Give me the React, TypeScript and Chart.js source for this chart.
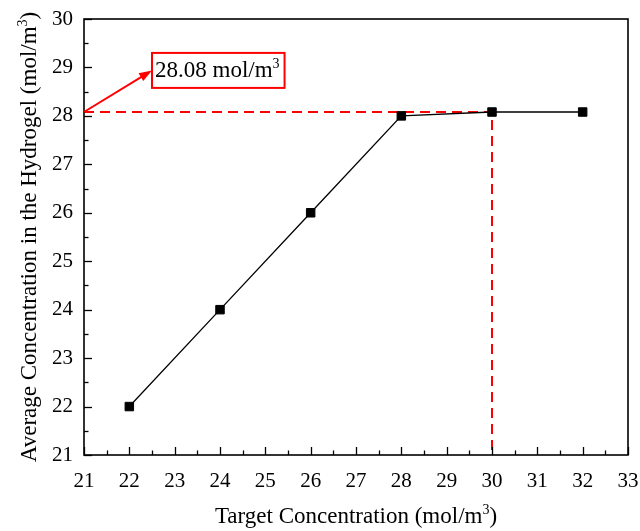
import React, { useEffect, useRef } from 'react';
import { Chart, registerables } from 'chart.js';

Chart.register(...registerables);

// ---- data ----
const targetConc = [22, 24, 26, 28, 30, 32];
const avgConc = [22, 24, 26, 28, 28.08, 28.08];
const refLineX = [21, 30, 30];
const refLineY = [28.08, 28.08, 21];
const xMin = 21;
const xMax = 33;
const yMin = 21;
const yMax = 30;
const xTitleParts = ['Target Concentration (mol/m', '3', ')'];
const yTitleParts = ['Average Concentration in the Hydrogel (mol/m', '3', ')'];
const annotationParts = ['28.08 mol/m', '3'];
const annotationValue = 28.08;
const annotationBoxX = 22.5;
const annotationBoxTopY = 29.3;

const FONT = '"Liberation Serif", "Times New Roman", serif';

type Ctx = CanvasRenderingContext2D;

function partsWidth(ctx: Ctx, parts: string[], size: number) {
  let w = 0;
  parts.forEach((p, i) => {
    const sup = i % 2 === 1;
    ctx.font = `${sup ? Math.round(size * 0.6) : size}px ${FONT}`;
    w += ctx.measureText(p).width;
  });
  return w;
}

function drawParts(ctx: Ctx, parts: string[], x: number, y: number, size: number) {
  let cx = x;
  ctx.textBaseline = 'middle';
  ctx.textAlign = 'left';
  parts.forEach((p, i) => {
    const sup = i % 2 === 1;
    const s = sup ? Math.round(size * 0.6) : size;
    ctx.font = `${s}px ${FONT}`;
    ctx.fillText(p, cx, sup ? y - size * 0.3 : y);
    cx += ctx.measureText(p).width;
  });
}

const zeroPad = (s: any) => {
  s.paddingLeft = 0;
  s.paddingRight = 0;
  s.paddingTop = 0;
  s.paddingBottom = 0;
};

const decorPlugin = {
  id: 'decor',
  afterDraw(chart: any) {
    const ctx: Ctx = chart.ctx;
    const { left, right, top, bottom } = chart.chartArea;
    const xs = chart.scales.x;
    const ys = chart.scales.y;
    ctx.save();
    // inward ticks
    ctx.strokeStyle = '#000';
    ctx.lineWidth = 1.3;
    for (let v = xMin; v <= xMax + 1e-9; v += 0.5) {
      const px = Math.round(xs.getPixelForValue(v)) + 0.5;
      const len = Number.isInteger(v) ? 8 : 4.5;
      ctx.beginPath();
      ctx.moveTo(px, bottom);
      ctx.lineTo(px, bottom - len);
      ctx.stroke();
    }
    for (let v = yMin; v <= yMax + 1e-9; v += 0.5) {
      const py = Math.round(ys.getPixelForValue(v)) + 0.5;
      const len = Number.isInteger(v) ? 8 : 4.5;
      ctx.beginPath();
      ctx.moveTo(left, py);
      ctx.lineTo(left + len, py);
      ctx.stroke();
    }
    // frame
    ctx.lineWidth = 1.6;
    ctx.strokeRect(left, top, right - left, bottom - top);

    // axis titles
    ctx.fillStyle = '#000';
    const tSize = 23;
    const xw = partsWidth(ctx, xTitleParts, tSize);
    drawParts(ctx, xTitleParts, (left + right) / 2 - xw / 2, 517, tSize);
    const yw = partsWidth(ctx, yTitleParts, tSize);
    ctx.save();
    ctx.translate(30, (top + bottom) / 2);
    ctx.rotate(-Math.PI / 2);
    drawParts(ctx, yTitleParts, -yw / 2, 0, tSize);
    ctx.restore();

    // annotation box + arrow
    const aSize = 23;
    const aw = partsWidth(ctx, annotationParts, aSize);
    const bx = xs.getPixelForValue(annotationBoxX);
    const by = ys.getPixelForValue(annotationBoxTopY);
    const bw = aw + 8;
    const bh = 35;
    ctx.strokeStyle = '#ff0000';
    ctx.lineWidth = 2;
    ctx.strokeRect(bx, by, bw, bh);
    ctx.fillStyle = '#000';
    drawParts(ctx, annotationParts, bx + 3, by + bh / 2 + 1, aSize);

    const ax = xs.getPixelForValue(xMin);
    const ay = ys.getPixelForValue(annotationValue);
    const tx = bx;
    const ty = by + bh / 2;
    const ang = Math.atan2(ty - ay, tx - ax);
    const hl = 13;
    ctx.strokeStyle = '#ff0000';
    ctx.fillStyle = '#ff0000';
    ctx.lineWidth = 2;
    ctx.beginPath();
    ctx.moveTo(ax, ay);
    ctx.lineTo(tx - Math.cos(ang) * hl * 0.8, ty - Math.sin(ang) * hl * 0.8);
    ctx.stroke();
    ctx.beginPath();
    ctx.moveTo(tx, ty);
    ctx.lineTo(tx - hl * Math.cos(ang) + 4.5 * Math.sin(ang), ty - hl * Math.sin(ang) - 4.5 * Math.cos(ang));
    ctx.lineTo(tx - hl * Math.cos(ang) - 4.5 * Math.sin(ang), ty - hl * Math.sin(ang) + 4.5 * Math.cos(ang));
    ctx.closePath();
    ctx.fill();
    ctx.restore();
  },
};

export default function App() {
  const ref = useRef<HTMLCanvasElement | null>(null);
  useEffect(() => {
    if (!ref.current) return;
    const chart = new Chart(ref.current, {
      type: 'line',
      data: {
        datasets: [
          {
            data: refLineX.map((x, i) => ({ x, y: refLineY[i] })),
            borderColor: '#ff0000',
            borderWidth: 2,
            borderDash: [10, 6],
            pointRadius: 0,
            fill: false,
            tension: 0,
            order: 2,
          },
          {
            data: targetConc.map((x, i) => ({ x, y: avgConc[i] })),
            borderColor: '#000',
            borderWidth: 1.3,
            pointStyle: 'rect',
            pointRadius: 6,
            pointBackgroundColor: '#000',
            pointBorderColor: '#000',
            pointBorderWidth: 1,
            fill: false,
            tension: 0,
            order: 1,
          },
        ],
      },
      options: {
        animation: false,
        responsive: false,
        layout: { padding: { top: 19, right: 12, left: 0, bottom: 0 } },
        plugins: { legend: { display: false }, tooltip: { enabled: false } },
        scales: {
          x: {
            type: 'linear',
            min: xMin,
            max: xMax,
            grid: { display: false, drawTicks: false },
            border: { display: false },
            ticks: {
              stepSize: 1,
              color: '#000',
              padding: 14,
              font: { family: FONT, size: 21 },
              maxRotation: 0,
            },
            afterFit: (s: any) => {
              s.height = 76;
              zeroPad(s);
            },
          },
          y: {
            type: 'linear',
            min: yMin,
            max: yMax,
            grid: { display: false, drawTicks: false },
            border: { display: false },
            ticks: {
              stepSize: 1,
              color: '#000',
              padding: 11,
              font: { family: FONT, size: 21 },
            },
            afterFit: (s: any) => {
              s.width = 84;
              zeroPad(s);
            },
          },
        },
      },
      plugins: [decorPlugin],
    } as any);
    return () => chart.destroy();
  }, []);
  return (
    <div style={{ position: 'absolute', left: 0, top: 0, width: 640, height: 531, background: '#fff' }}>
      <canvas ref={ref} width={640} height={531} />
    </div>
  );
}
